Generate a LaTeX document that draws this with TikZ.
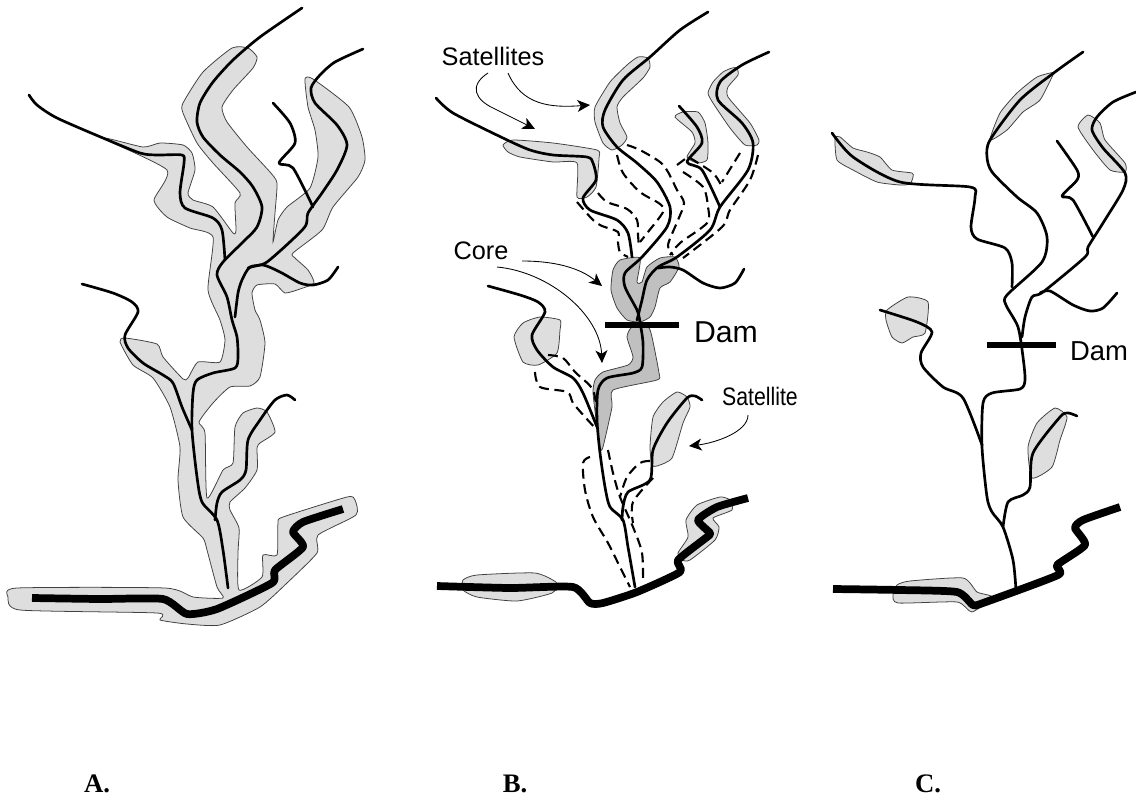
\documentclass[tikz,border=0pt]{standalone}
\usepackage{fontspec}
\setmainfont{Liberation Sans}
\newfontfamily\labelfont{Liberation Serif}
\newfontfamily\narrowfont[FakeStretch=0.84]{Liberation Sans}
\usetikzlibrary{arrows.meta}
\definecolor{bufferfill}{HTML}{dedede}
\definecolor{corefill}{HTML}{c0c0c0}
\definecolor{bufferline}{HTML}{404040}

\begin{document}
\begin{tikzpicture}[
    x=0.025cm, y=-0.025cm,
    buffer/.style={fill=bufferfill, draw=bufferline, line width=0.55pt, smooth cycle, tension=0.35},
    corezone/.style={fill=corefill, draw=bufferline, line width=0.55pt, smooth cycle, tension=0.35},
    stream/.style={draw=black, line width=1.9pt, line cap=round, line join=round, smooth, tension=0.45},
    mainriver/.style={draw=black, line width=5.5pt, line join=round, smooth, tension=0.35},
    buffedge/.style={draw=black, line width=1.5pt, dash pattern=on 7pt off 4pt, smooth, tension=0.5},
    pointer/.style={line width=0.6pt, -{Stealth[length=9pt,width=8.5pt,inset=2.5pt]}},
    dambar/.style={draw=black, line width=4.3pt},
    callout/.style={font=\fontsize{18}{20}\selectfont},
    damlabel/.style={font=\fontsize{21.5}{23}\selectfont},
    panel/.style={font=\labelfont\fontsize{19}{21}\selectfont\bfseries, anchor=base},
]
\useasboundingbox (0,0) rectangle (1136,796);

% ── Panel A ─────────────────────────────────────────────────────────────
\path[buffer] plot coordinates {
    (232,48) (248,48) (257,57) (253,68) (233,90) (222,107) (227,122) (247,147)
    (270,172) (277,183) (275,213) (273,242) (278,220) (287,207) (310,188) (318,157)
    (315,130) (308,107) (305,79) (313,79) (349,107) (362,137) (365,160) (358,177)
    (333,207) (322,230) (293,253) (295,258) (308,270) (314,283) (300,289) (285,293)
    (275,284) (257,285) (252,293) (255,310) (260,320) (265,343) (260,377) (250,386)
    (230,387) (213,403) (199,422) (205,433) (207,498) (223,470) (233,463) (235,427)
    (243,413) (257,408) (267,412) (275,432) (260,443) (257,448) (257,470) (245,488)
    (230,502) (230,510) (239,528) (238,553) (239,590) (262,577) (263,555) (277,555)
    (278,523) (283,517) (347,497) (355,500) (356,515) (318,535) (317,553) (287,583)
    (260,607) (220,625) (187,624) (160,620) (157,613) (20,610) (8,597) (17,588)
    (165,588) (193,597) (223,598) (217,587) (207,550) (203,538) (183,517) (178,480)
    (180,447) (170,407) (153,378) (133,365) (120,342) (125,338) (157,344) (163,357)
    (183,379) (188,378) (198,362) (220,362) (225,340) (220,320) (208,290) (213,237)
    (190,228) (167,217) (154,200) (167,170) (103,138) (143,147) (160,143) (183,145)
    (192,153) (195,170) (188,193) (193,200) (213,207) (233,233) (236,230) (235,203)
    (240,193) (213,163) (197,143) (183,113) (183,103) (203,72)
};

\path[stream] plot coordinates {
    (302,8) (260,37) (233,60) (213,82) (200,103) (197,122) (203,137) (220,155)
    (240,172) (253,187) (262,207) (257,227) (243,242) (223,262) (217,275) (227,297)
    (232,320) (237,337) (238,357) (235,368) (213,373) (197,380) (193,393) (192,430)
    (197,477) (202,502) (217,520) (223,550) (228,588)
};
\path[stream] plot coordinates {
    (29,95) (37,105) (57,118) (103,138) (140,153) (157,155) (182,155) (184,163)
    (180,193) (185,208) (213,218) (222,230) (225,260)
};
\path[stream] plot coordinates {
    (363,49) (335,62) (320,75) (311,88) (315,103) (337,125) (347,145) (337,170)
    (322,193) (308,213) (304,228) (267,262) (250,267) (242,280) (238,293) (235,317)
};
\path[stream] plot coordinates {(273,103) (290,123) (295,143) (279,163) (293,168) (313,207)};
\path[stream] plot coordinates {(338,267) (328,280) (313,285) (300,283) (280,272) (263,265) (248,268)};
\path[stream] plot coordinates {
    (82,284) (113,293) (132,302) (138,312) (125,335) (128,348) (143,363) (163,375)
    (173,383) (182,407) (192,430)
};
\path[stream] plot coordinates {
    (295,400) (287,395) (275,400) (260,420) (248,440) (246,470) (240,480) (222,492)
    (217,503) (215,520)
};
\path[mainriver] plot coordinates {
    (32,598) (100,599) (163,599) (187,614) (217,609) (272,583) (275,570) (303,547)
    (293,532) (303,522) (343,509)
};

% ── Panel B ─────────────────────────────────────────────────────────────
\path[buffer] plot coordinates {
    (638,57) (648,58) (650,67) (643,78) (623,97) (617,107) (620,123) (627,137)
    (622,145) (612,150) (603,143) (595,122) (595,107) (610,82) (627,65)
};
\path[buffer] plot coordinates {
    (503,145) (513,140) (553,143) (597,150) (599,158) (596,187) (587,197) (577,197)
    (577,163) (553,162) (520,157) (508,152)
};
\path[buffer] plot coordinates {
    (732,68) (737,68) (738,75) (728,87) (728,97) (750,123) (759,140) (757,145)
    (745,145) (730,128) (713,103) (708,93) (713,82) (723,72)
};
\path[buffer] plot coordinates {
    (675,117) (683,112) (698,112) (705,123) (708,143) (707,160) (697,163) (687,157)
    (695,143) (692,132)
};
\path[buffer] plot coordinates {
    (523,323) (540,317) (560,320) (560,330) (557,353) (538,365) (523,362) (514,337)
};
\path[buffer] plot coordinates {
    (677,392) (687,397) (690,407) (683,423) (672,458) (657,466) (652,465) (650,447)
    (653,417) (663,402)
};
\path[buffer] plot coordinates {
    (463,580) (477,575) (535,573) (557,583) (552,593) (517,601) (477,597) (463,590)
};
\path[buffer] plot coordinates {
    (720,497) (730,500) (732,510) (713,518) (719,527) (715,540) (690,560) (682,560)
    (678,553) (688,537) (686,520) (697,505)
};
\path[corezone] plot coordinates {
    (620,260) (640,258) (637,282) (642,282) (647,267) (660,258) (675,257) (679,267)
    (670,282) (660,288) (655,307) (650,317) (640,322) (627,320) (617,308) (611,290)
    (613,270)
};
\path[corezone] plot coordinates {
    (632,327) (648,327) (652,337) (659,373) (657,380) (613,390) (612,407) (603,447)
    (600,449) (597,427) (593,393) (595,380) (603,372) (628,365) (633,357) (627,337)
};

\path[stream] plot coordinates {
    (708,12) (680,30) (650,57) (623,80) (605,110) (603,127) (617,147) (637,163)
    (657,182) (670,207) (667,227) (642,257) (625,273) (625,287) (637,310) (640,322)
    (643,343) (642,367) (633,373) (607,378) (598,390) (597,420) (600,453) (605,487)
    (610,507) (623,520) (628,547) (635,587)
};
\path[stream] plot coordinates {
    (436,98) (453,113) (503,138) (530,150) (553,155) (587,157) (593,163) (596,180)
    (583,198) (590,210) (617,220) (628,233) (632,257)
};
\path[stream] plot coordinates {
    (769,52) (742,65) (720,82) (718,100) (742,123) (753,143) (748,170) (720,207)
    (710,230) (677,257) (658,267) (647,280) (642,300) (637,320)
};
\path[stream] plot coordinates {(679,106) (697,127) (702,143) (687,162) (702,170) (720,207)};
\path[stream] plot coordinates {(744,269) (735,283) (720,288) (703,283) (683,270) (670,267) (658,268)};
\path[stream] plot coordinates {
    (488,286) (520,295) (538,302) (545,312) (532,335) (537,350) (553,367) (573,378)
    (583,393) (597,427)
};
\path[stream] plot coordinates {
    (702,400) (695,396) (687,398) (667,423) (653,450) (650,480) (628,492) (623,507)
    (622,520)
};

\path[buffedge] plot coordinates {(627,145) (640,150) (660,162) (668,172) (677,190) (684,203) (678,220) (668,245) (673,255)};
\path[buffedge] plot coordinates {(617,155) (623,173) (640,192) (660,204) (663,212) (648,232) (640,242)};
\path[buffedge] plot coordinates {(598,193) (607,202) (627,209) (637,220) (638,235) (639,248)};
\path[buffedge] plot coordinates {(577,202) (593,220) (602,226) (618,232) (618,242) (620,252) (628,257)};
\path[buffedge] plot coordinates {(758,155) (750,180) (730,210) (722,227) (683,258)};
\path[buffedge] plot coordinates {(740,153) (722,182)};
\path[buffedge] plot coordinates {(690,158) (713,173) (722,187)};
\path[buffedge] plot coordinates {(677,165) (685,159)};
\path[buffedge] plot coordinates {(683,172) (703,187) (708,207) (707,223) (680,243) (670,255)};
\path[buffedge] plot coordinates {(548,355) (563,358) (575,372) (593,390) (597,417)};
\path[buffedge] plot coordinates {(535,372) (540,387) (567,392) (573,403) (585,417) (597,430)};
\path[buffedge] plot coordinates {(590,457) (583,463) (585,490) (593,517) (608,543) (620,567) (630,587)};
\path[buffedge] plot coordinates {(608,450) (613,473) (620,497) (633,527) (642,553) (643,583)};
\path[buffedge] plot coordinates {(650,461) (640,463) (627,477) (620,497)};
\path[buffedge] plot coordinates {(653,478) (633,502) (633,523)};

\path[mainriver] plot coordinates {
    (437,586) (510,588) (573,587) (590,603) (603,603) (637,592) (680,572) (678,560)
    (707,537) (710,533) (698,520) (717,507) (748,498)
};

\coordinate (damBw) at (605,325);
\coordinate (damBe) at (679,325);
\draw[dambar] (damBw) -- (damBe);

\node[callout] (satB) at (493,56) {Satellites};
\node[callout] (coreB) at (481,251) {Core};
\node[damlabel] (damB) at (726,332) {Dam};
\node[font=\narrowfont\fontsize{18}{20}\selectfont] (satoneB) at (760,396) {Satellite};

\coordinate (satBa) at (535,129);
\coordinate (satBb) at (590,105);
\coordinate (coreBa) at (602,286);
\coordinate (coreBb) at (602,363);
\coordinate (satoneBa) at (689,446);

\draw[pointer] (488,73) .. controls (468,86) and (476,100) .. (493,108) -- (satBa);
\draw[pointer] (508,73) .. controls (522,105) and (550,108) .. (satBb);
\draw[pointer] (522,261) .. controls (555,261) and (580,268) .. (coreBa);
\draw[pointer] (497,267) .. controls (550,272) and (600,315) .. (coreBb);
\draw[pointer] (748,415) .. controls (748,432) and (715,443) .. (satoneBa);

% ── Panel C ─────────────────────────────────────────────────────────────
\path[buffer] plot coordinates {
    (835,138) (840,137) (853,148) (867,152) (880,157) (892,170) (912,173) (913,177)
    (910,184) (900,185) (877,182) (853,170) (837,160)
};
\path[buffer] plot coordinates {
    (1055,72) (1037,77) (1017,93) (1000,113) (990,140) (1007,130) (1023,112) (1040,100) (1053,75)
};
\path[buffer] plot coordinates {
    (1078,127) (1088,115) (1100,123) (1105,140) (1125,163) (1125,172) (1110,170) (1093,150)
};
\path[buffer] plot coordinates {
    (887,310) (908,297) (928,302) (925,333) (913,337) (902,343) (892,337) (886,320)
};
\path[buffer] plot coordinates {
    (1055,408) (1067,417) (1060,440) (1052,467) (1032,478) (1028,447) (1037,423)
};
\path[buffer] plot coordinates {
    (897,585) (910,581) (963,578) (977,592) (992,597) (972,612) (957,602) (898,603) (893,595)
};

\path[stream] plot coordinates {
    (1083,52) (1055,72) (1020,100) (990,140) (987,157) (992,172) (1017,197) (1037,213)
    (1047,237) (1042,262) (1007,295) (1006,305) (1018,327) (1023,357) (1025,380)
    (1020,389) (992,393) (983,403) (982,447) (987,497) (992,512) (1003,527) (1013,560)
    (1016,590)
};
\path[stream] plot coordinates {
    (832,133) (853,157) (900,182) (970,187) (975,197) (971,227) (977,239) (1005,248)
    (1012,263) (1012,287)
};
\path[stream] plot coordinates {
    (1136,92) (1113,102) (1097,117) (1092,130) (1103,148) (1125,173) (1123,190) (1103,223)
    (1088,247) (1085,257) (1043,292) (1032,297) (1025,317) (1022,337)
};
\path[stream] plot coordinates {(1057,141) (1077,170) (1077,180) (1062,196) (1073,200) (1093,237)};
\path[stream] plot coordinates {(1117,293) (1103,308) (1090,311) (1073,305) (1050,291) (1040,293)};
\path[stream] plot coordinates {
    (880,310) (917,322) (932,332) (921,353) (923,367) (943,387) (963,398) (982,445)
};
\path[stream] plot coordinates {
    (1077,416) (1068,413) (1060,417) (1033,453) (1030,487) (1023,495) (1008,502) (1003,527)
};
\path[mainriver] plot coordinates {
    (833,589) (900,590) (957,592) (973,605) (983,603) (1058,575) (1057,565)
    (1085,545) (1075,528) (1083,520) (1120,507)
};

\coordinate (damCw) at (987,345);
\coordinate (damCe) at (1056,345);
\draw[dambar] (damCw) -- (damCe);
\node[damlabel, font=\fontsize{19.5}{21}\selectfont] (damC) at (1099,351) {Dam};

% ── Panel letters ───────────────────────────────────────────────────────
\node[panel] (letterA) at (97,792) {A.};
\node[panel] (letterB) at (515,792) {B.};
\node[panel] (letterC) at (928,792) {C.};

\end{tikzpicture}
\end{document}
